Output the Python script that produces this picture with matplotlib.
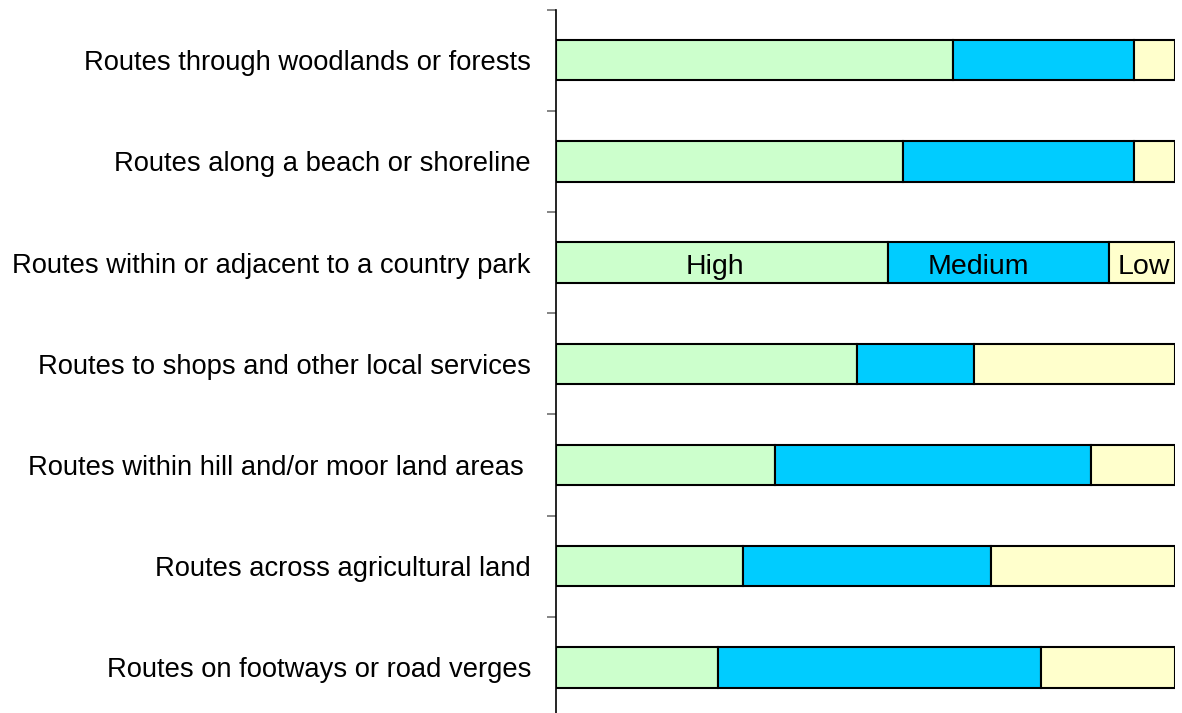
import matplotlib.pyplot as plt
import numpy as np

plt.rcParams['font.family'] = ['Liberation Sans', 'DejaVu Sans']

categories = [
    "Routes through woodlands or forests",
    "Routes along a beach or shoreline",
    "Routes within or adjacent to a country park",
    "Routes to shops and other local services",
    "Routes within hill and/or moor land areas ",
    "Routes across agricultural land",
    "Routes on footways or road verges",
]
high = [64.2, 56.0, 53.7, 48.7, 35.4, 30.2, 26.2]
medium = [29.2, 37.4, 35.7, 18.9, 51.0, 40.0, 52.2]
low = [6.6, 6.6, 10.6, 32.4, 13.6, 29.8, 21.6]
series_names = ["High", "Medium", "Low"]
colors = ["#CCFFCC", "#00CCFF", "#FFFFCC"]
labelled_row = 2
label_shift = [-5, -15, 1]  # points, Excel placed these a little off-centre

fig = plt.figure(figsize=(11.82, 7.13), dpi=100)
ax = fig.add_axes([556 / 1182, 1 - 718 / 713, 619 / 1182, 708.5 / 713])

y = np.arange(len(categories))
left = np.zeros(len(categories))
for name, vals, c, dx in zip(series_names, [high, medium, low], colors, label_shift):
    vals = np.array(vals)
    ax.barh(y, vals, left=left, height=0.4, color=c, edgecolor='black', linewidth=1.5)
    # data label only on one row, like the original
    ax.annotate(name, (left[labelled_row] + vals[labelled_row] / 2, labelled_row),
                xytext=(dx, -3), textcoords='offset points',
                ha='center', va='center', fontsize=20.5)
    left = left + vals

ax.set_xlim(0, 100)
ax.set_ylim(len(categories) - 0.5, -0.5)
ax.set_yticks(y)
ax.set_yticklabels(categories, fontsize=19.7)
ax.set_yticks(np.arange(len(categories) + 1) - 0.5, minor=True)
ax.tick_params(axis='y', which='major', length=0, pad=18)
ax.tick_params(axis='y', which='minor', length=6.5, width=1.2, color='#707070', direction='out')
ax.set_xticks([])
for s in ['top', 'right', 'bottom']:
    ax.spines[s].set_visible(False)
ax.spines['left'].set_linewidth(1.2)

plt.savefig('out.png', dpi=100)
